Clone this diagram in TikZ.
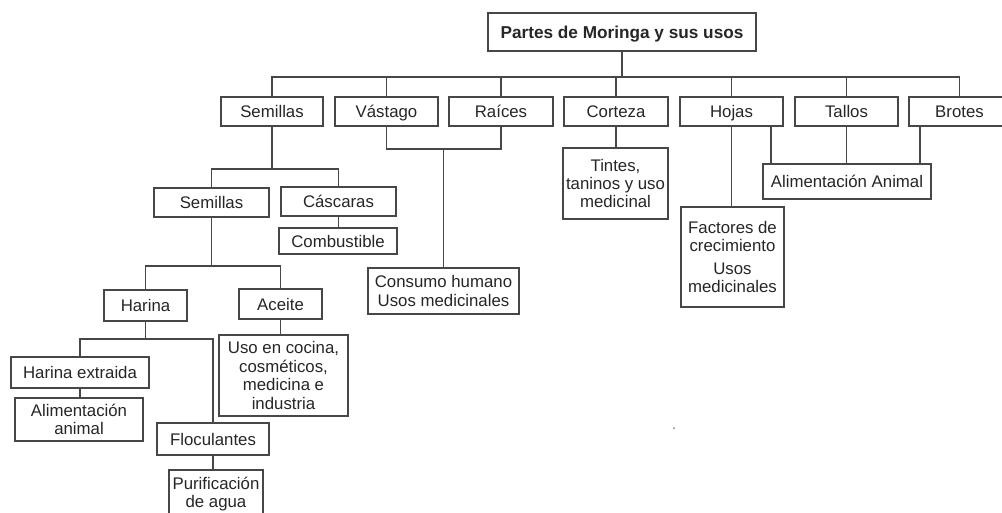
\documentclass[tikz,border=0pt]{standalone}
\usepackage{fontspec}
\setmainfont{Liberation Sans}
\begin{document}
\begin{tikzpicture}[x=1pt,y=-1pt,
  box/.style={draw=black!72, line width=1.2pt, inner sep=0pt, align=center,
    font=\fontsize{16.8}{18.4}\selectfont, text=black!85},
  one/.style={text height=14.5pt, text depth=2pt},
  conn/.style={draw=black!72, line width=1.2pt}]
\useasboundingbox (0,0) rectangle (1002,512);
\fill[white] (0,0) rectangle (1002,512);

% level 0
\node[box, one, minimum width=268pt, minimum height=38pt, font=\fontsize{17.2}{19}\selectfont\bfseries] (title) at (622,32) {Partes de Moringa y sus usos};

% level 1
\node[box, one, minimum width=102pt, minimum height=29pt] (sem1) at (272,111.5) {Semillas};
\node[box, one, minimum width=103pt, minimum height=29pt] (vast) at (386.5,111.5) {Vástago};
\node[box, one, minimum width=104pt, minimum height=29pt] (raices) at (501,111.5) {Raíces};
\node[box, one, minimum width=104pt, minimum height=29pt] (corteza) at (616,111.5) {Corteza};
\node[box, one, minimum width=103pt, minimum height=29pt] (hojas) at (731.5,111.5) {Hojas};
\node[box, one, minimum width=103pt, minimum height=29pt] (tallos) at (846.5,111.5) {Tallos};
\node[box, one, minimum width=101pt, minimum height=29pt] (brotes) at (959.5,111.5) {Brotes};

% semillas branch
\node[box, one, minimum width=115pt, minimum height=29pt] (sem2) at (211.5,202.5) {Semillas};
\node[box, one, minimum width=115pt, minimum height=29pt] (casc) at (338.5,201.5) {Cáscaras};
\node[box, one, minimum width=118pt, minimum height=26pt] (comb) at (338,241) {Combustible};
\node[box, one, minimum width=83pt, minimum height=31pt] (harina) at (145.5,305.5) {Harina};
\node[box, one, minimum width=83pt, minimum height=30pt] (aceite) at (280.5,304) {Aceite};
\node[box, minimum width=129pt, minimum height=81pt] (uso) at (283.5,375.5) {Uso en cocina,\\cosméticos,\\medicina e\\industria};
\node[box, one, minimum width=138pt, minimum height=31pt] (hext) at (80,372.5) {Harina extraida};
\node[box, minimum width=128pt, minimum height=43pt] (alim1) at (79,419.5) {Alimentación\\animal};
\node[box, one, minimum width=112pt, minimum height=32pt] (floc) at (213,439) {Floculantes};
\node[box, minimum width=94pt, minimum height=48pt] (puri) at (216,494) {Purificación\\de agua};

% other branches
\node[box, minimum width=151pt, minimum height=46pt] (consumo) at (443.5,291) {Consumo humano\\Usos medicinales};
\node[box, minimum width=105pt, minimum height=71pt] (tintes) at (615.5,183.5) {Tintes,\\taninos y uso\\medicinal};
\node[box, minimum width=103pt, minimum height=100pt] (factores) at (732.5,257) {Factores de\\crecimiento\\[4pt]Usos\\medicinales};
\node[box, one, minimum width=168pt, minimum height=35pt] (alimA) at (847,181.5) {Alimentación Animal};

% bus levels
\coordinate (bus) at (0,77);
\coordinate (b2) at (0,169);
\coordinate (b3) at (0,149);
\coordinate (b4) at (0,266);
\coordinate (b5) at (0,339);
\coordinate (hx) at (771,0);
\coordinate (bx) at (920,0);

% top bus
\draw[conn] (title.south) -- (title.south |- bus);
\draw[conn] (sem1.north) -- (sem1.north |- bus) -- (brotes.north |- bus) -- (brotes.north);
\foreach \n in {vast,raices,corteza,hojas,tallos}
  \draw[conn] (\n.north) -- (\n.north |- bus);

% semillas
\draw[conn] (sem1.south) -- (sem1.south |- b2);
\draw[conn] (sem2.north) -- (sem2.north |- b2) -- (casc.north |- b2) -- (casc.north);
\draw[conn] (casc.south) -- (casc.south |- comb.north);

% vastago / raices
\draw[conn] (vast.south) -- (vast.south |- b3) -- (raices.south |- b3) -- (raices.south);
\draw[conn] (consumo.north |- b3) -- (consumo.north);

% semillas 2
\draw[conn] (sem2.south) -- (sem2.south |- b4);
\draw[conn] (harina.north) -- (harina.north |- b4) -- (aceite.north |- b4) -- (aceite.north);
\draw[conn] (aceite.south) -- (aceite.south |- uso.north);

% harina
\draw[conn] (harina.south) -- (harina.south |- b5);
\draw[conn] (hext.north) -- (hext.north |- b5) -- (floc.north |- b5) -- (floc.north);
\draw[conn] (hext.south) -- (hext.south |- alim1.north);
\draw[conn] (floc.south) -- (floc.south |- puri.north);

% corteza, hojas, tallos, brotes
\draw[conn] (corteza.south) -- (corteza.south |- tintes.north);
\draw[conn] (hojas.south) -- (hojas.south |- factores.north);
\draw[conn] (hojas.south -| hx) -- (alimA.north -| hx);
\draw[conn] (tallos.south) -- (tallos.south |- alimA.north);
\draw[conn] (brotes.south -| bx) -- (alimA.north -| bx);

% stray dot
\fill[black!50] (674,428) circle (1pt);
\end{tikzpicture}
\end{document}
